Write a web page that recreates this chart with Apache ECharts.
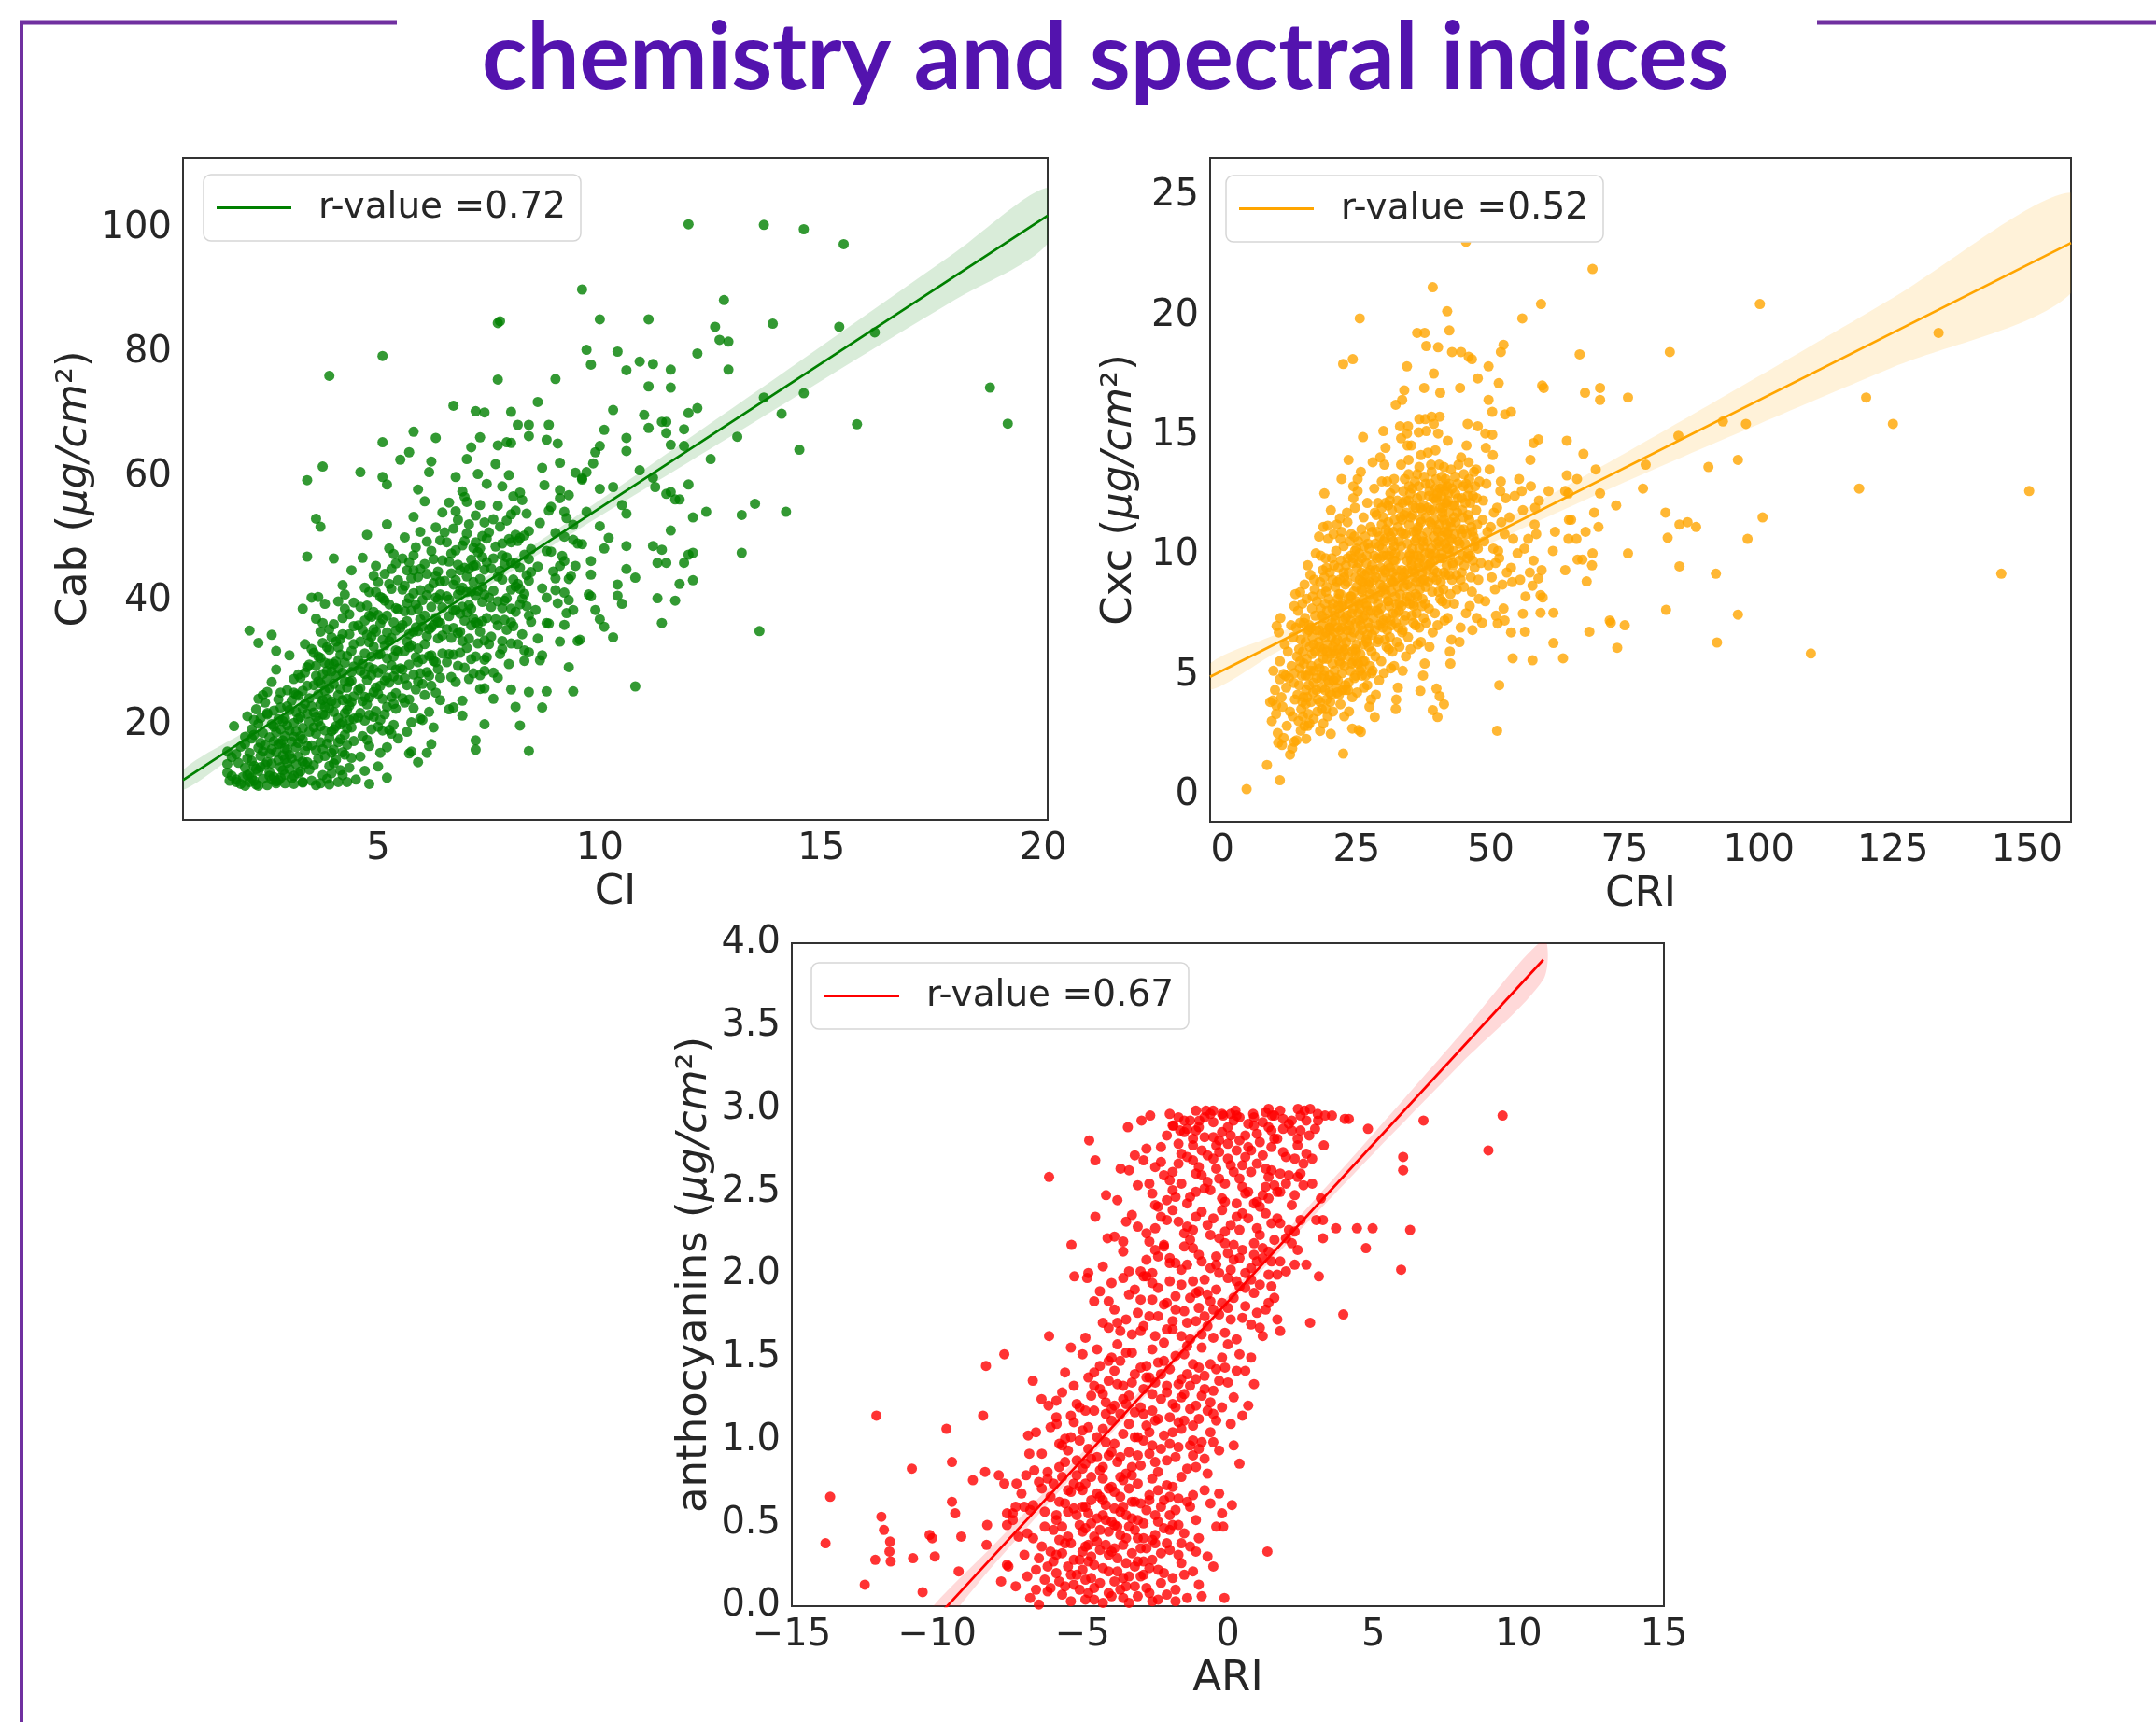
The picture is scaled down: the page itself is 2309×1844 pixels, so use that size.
<!DOCTYPE html>
<html><head><meta charset="utf-8">
<script src="https://cdn.jsdelivr.net/npm/echarts@6/dist/echarts.min.js"></script>
<style>html,body{margin:0;padding:0;background:#fff}#c{width:2309px;height:1844px}</style>
</head><body><div id="c"></div>
<script>
// ---------- Panel 1: CI vs Cab ----------
const ciCabCore = [
[1.6,12.3],[1.7,14.8],[1.8,11.2],[1.9,16.5],[2.0,13.1],[2.1,10.8],[2.2,18.4],[2.3,12.6],[2.4,15.7],[1.75,19.8],[1.85,13.9],[1.95,11.6],[2.05,21.4],[2.15,14.2],[2.25,10.4],[2.35,17.1],[2.45,23.6],[1.65,11.0],[2.0,16.9],[2.2,13.4],[2.4,11.3],[2.3,20.2],[2.1,12.1],[1.9,10.5],[2.45,13.6],[2.35,15.0],[2.15,17.8],[2.25,22.5],[1.8,15.3],[2.05,11.9],
[2.5,10.3],[3.5,11.0],[3.9,10.4],[4.5,11.2],[4.7,12.6],[2.8,11.5],[3.6,10.3],[4.2,11.9],[2.2,11.0],[3.2,12.2],
[2.55,12.4],[2.6,16.1],[2.65,19.7],[2.7,10.9],[2.75,14.3],[2.8,22.8],[2.85,17.5],[2.9,12.0],[2.95,25.6],[3.0,15.2],[3.05,11.4],[3.1,20.3],[3.15,13.7],[3.2,28.1],[3.25,18.2],[3.3,10.7],[3.35,23.4],[3.4,16.6],[3.45,12.8],[2.6,26.9],[2.7,18.8],[2.8,13.2],[2.9,21.0],[3.0,31.2],[3.1,11.8],[3.2,14.9],[3.3,19.5],[3.4,26.3],[2.55,15.4],[2.65,11.6],[2.75,24.1],[2.85,20.6],[2.95,13.9],[3.05,17.3],[3.15,22.1],[3.25,12.5],[3.35,15.8],[3.45,29.7],[2.6,13.8],[2.8,17.0],[3.0,19.1],[3.2,24.7],[3.4,21.8],[2.7,28.9],[2.9,16.2],[3.1,27.4],[3.3,14.1],[3.45,18.9],[2.5,21.7],[2.75,11.1],[3.05,23.9],[3.35,33.0],[3.15,16.4],[2.95,19.9],[3.25,21.3],[2.85,15.1],[3.45,24.3],[3.0,12.9],[3.3,17.7],[2.65,22.3],
[3.55,13.5],[3.6,18.6],[3.65,24.9],[3.7,30.8],[3.75,16.1],[3.8,21.6],[3.85,27.3],[3.9,35.4],[3.95,12.2],[4.0,19.3],[4.05,23.5],[4.1,29.1],[4.15,33.8],[4.2,15.6],[4.25,38.7],[4.3,26.0],[4.35,20.8],[4.4,31.9],[4.45,17.4],[3.55,22.0],[3.6,27.9],[3.65,14.6],[3.7,19.8],[3.75,33.2],[3.8,25.5],[3.85,11.3],[3.9,17.9],[3.95,28.6],[4.0,36.2],[4.05,14.4],[4.1,21.1],[4.15,25.8],[4.2,42.5],[4.25,18.4],[4.3,31.1],[4.35,13.1],[4.4,23.7],[4.45,35.9],[3.6,37.1],[3.7,23.3],[3.8,15.0],[3.9,29.8],[4.0,26.6],[4.1,17.2],[4.2,34.6],[4.3,22.4],[4.4,44.9],[3.65,20.6],[3.75,28.2],[3.85,32.5],[3.95,19.0],[4.05,30.2],[4.15,12.7],[4.25,27.0],[4.35,37.8],[4.45,24.6],[3.55,31.6],[3.8,39.5],[4.0,16.0],[4.2,28.4],[4.4,19.6],[3.7,26.7],[3.9,22.7],[4.1,39.9],[4.3,16.8],[3.6,15.9],[3.85,24.2],[4.05,33.4],[4.25,21.9],[4.45,29.4],[3.75,11.9],[3.95,34.1],[4.15,20.1],[4.35,26.9],[4.0,46.8],[3.65,40.6],[4.2,24.0],[3.9,13.4],[4.4,14.7],[3.8,30.0],
[4.55,21.2],[4.6,28.7],[4.65,35.3],[4.7,42.1],[4.75,17.6],[4.8,24.4],[4.85,31.0],[4.9,38.2],[4.95,45.6],[5.0,19.7],[5.05,26.3],[5.1,33.7],[5.15,40.0],[5.2,22.9],[5.25,48.4],[5.3,29.6],[5.35,36.5],[5.4,25.1],[5.45,43.3],[4.55,30.4],[4.6,14.9],[4.65,23.8],[4.7,36.8],[4.75,27.2],[4.8,41.4],[4.85,19.3],[4.9,32.6],[4.95,26.0],[5.0,37.7],[5.05,15.5],[5.1,29.0],[5.15,21.7],[5.2,34.9],[5.25,39.4],[5.3,18.6],[5.35,27.8],[5.4,46.0],[5.45,31.8],[4.6,39.0],[4.7,20.7],[4.8,33.3],[4.9,25.3],[5.0,43.0],[5.1,37.0],[5.2,16.4],[5.3,24.5],[5.4,35.2],[4.65,46.9],[4.75,34.5],[4.85,28.0],[4.95,22.2],[5.05,31.4],[5.15,44.3],[5.25,26.8],[5.35,20.0],[5.45,38.6],[4.55,36.0],[4.8,29.3],[5.0,25.0],[5.2,30.7],[5.4,22.6],[4.7,31.5],[4.9,44.0],[5.1,19.1],[5.3,41.9],[4.6,25.9],[4.85,37.4],[5.05,40.6],[5.25,33.5],[5.45,17.8],[4.75,50.6],[4.95,35.0],[5.15,27.1],[5.35,47.5],[5.0,13.3],[4.65,18.2],[5.2,52.3],[4.9,21.3],[5.4,28.9],[4.8,16.6],
[5.55,24.3],[5.6,31.9],[5.65,39.6],[5.7,46.2],[5.75,20.4],[5.8,28.1],[5.85,35.7],[5.9,43.8],[5.95,51.1],[6.0,26.6],[6.05,33.0],[6.1,40.9],[6.15,22.1],[6.2,48.0],[6.25,30.3],[6.3,37.2],[6.35,44.7],[6.4,27.6],[6.45,54.2],[5.55,36.1],[5.6,42.4],[5.65,18.9],[5.7,29.7],[5.75,38.4],[5.8,47.3],[5.85,25.7],[5.9,32.3],[5.95,21.0],[6.0,40.1],[6.05,45.9],[6.1,28.5],[6.15,35.4],[6.2,16.9],[6.25,42.8],[6.3,25.2],[6.35,33.9],[6.4,49.7],[6.45,38.9],[5.6,23.6],[5.7,34.6],[5.8,41.2],[5.9,27.0],[6.0,35.8],[6.1,49.5],[6.2,31.2],[6.3,44.0],[6.4,36.4],[5.65,44.9],[5.75,32.8],[5.85,48.6],[5.95,37.0],[6.05,24.8],[6.15,42.0],[6.25,19.6],[6.35,29.0],[6.45,46.5],[5.55,28.9],[5.8,53.5],[6.0,30.6],[6.2,39.0],[6.4,24.0],[5.7,40.4],[5.9,38.7],[6.1,34.3],[6.3,51.8],[5.6,50.2],[5.85,30.9],[6.05,56.0],[6.25,36.1],[6.45,31.5],[5.75,15.7],[5.95,45.1],[6.15,27.9],[6.35,40.2],[6.0,20.8],[5.65,33.4],[6.2,26.3],[5.9,57.9],[6.4,43.1],[5.8,22.7],
[6.55,30.1],[6.6,37.5],[6.65,44.4],[6.7,51.6],[6.75,26.9],[6.8,34.8],[6.85,41.7],[6.9,48.9],[6.95,56.7],[7.0,32.4],[7.05,39.3],[7.1,46.6],[7.15,28.3],[7.2,53.7],[7.25,36.3],[7.3,43.5],[7.35,50.4],[7.4,33.6],[7.45,58.8],[6.55,40.7],[6.6,22.5],[6.65,34.0],[6.7,42.6],[6.75,48.1],[6.8,29.5],[6.85,37.9],[6.9,23.9],[6.95,45.3],[7.0,50.8],[7.05,27.4],[7.1,36.0],[7.15,43.0],[7.2,31.0],[7.25,47.8],[7.3,25.8],[7.35,39.8],[7.4,45.0],[7.45,37.2],[6.6,46.3],[6.7,35.6],[6.8,53.0],[6.9,39.0],[7.0,43.9],[7.1,30.6],[7.2,40.8],[7.3,55.4],[7.4,28.7],[6.65,27.7],[6.75,54.4],[6.85,31.6],[6.95,36.8],[7.05,52.3],[7.15,48.5],[7.25,33.1],[7.35,42.2],[7.45,50.0],[6.55,49.4],[6.8,41.0],[7.0,38.1],[7.2,45.7],[7.4,52.6],[6.7,31.3],[6.9,57.6],[7.1,41.5],[7.3,35.0],[6.6,55.8],[6.85,44.9],[7.05,33.9],[7.25,60.4],[7.45,30.9],[6.75,38.5],[6.95,29.2],[7.15,37.1],[7.35,47.0],[7.0,62.8],
[7.55,34.2],[7.6,41.6],[7.65,48.7],[7.7,55.3],[7.75,31.4],[7.8,38.8],[7.85,45.9],[7.9,52.9],[7.95,60.2],[8.0,36.5],[8.05,43.4],[8.1,50.6],[8.15,33.0],[8.2,57.4],[8.25,40.3],[8.3,47.4],[8.35,54.0],[8.4,37.6],[8.45,44.6],[7.55,45.2],[7.6,28.4],[7.65,37.0],[7.7,43.9],[7.75,51.9],[7.8,33.5],[7.85,40.0],[7.9,47.0],[7.95,29.8],[8.0,53.9],[8.05,35.9],[8.1,42.3],[8.15,49.6],[8.2,39.4],[8.25,56.2],[8.3,32.0],[8.35,44.1],[8.4,51.2],[8.45,36.6],[7.6,53.1],[7.7,39.9],[7.8,58.4],[7.9,35.3],[8.0,46.1],[8.1,38.2],[8.2,45.3],[8.3,41.1],[8.4,31.7],[7.65,62.0],[7.75,44.8],[7.85,36.9],[7.95,49.9],[8.05,56.8],[8.15,42.7],[8.25,34.6],[8.35,39.1],[8.45,48.3],[7.55,39.0],[7.8,49.2],[8.0,41.8],[8.2,50.1],[8.4,43.2],
[8.55,38.5],[8.6,45.5],[8.65,52.5],[8.7,42.0],[8.75,58.6],[8.8,48.0],[8.85,36.3],[8.9,55.1],[8.95,44.7],[9.0,50.9],[9.05,39.6],[9.1,62.2],[9.15,47.2],[9.2,41.3],[9.25,53.3],[9.3,57.0],[9.35,44.0],[9.4,49.8],[9.45,60.6],[8.6,33.9],[8.7,61.4],[8.8,40.5],[8.9,47.9],[9.0,43.6],[9.1,56.5],[9.2,46.4],[9.3,40.1],[9.4,52.2],[8.65,30.4],[8.85,54.5],[9.05,65.3],[9.25,38.0],[9.45,45.6]
];
const ciCabDense = [
[2.05,14.6],[2.15,19.3],[2.25,12.9],[2.35,21.1],[2.45,16.8],[2.55,11.8],[2.65,17.4],[2.75,20.9],[2.85,12.7],[2.95,16.0],[2.1,15.5],[2.2,20.8],[2.3,16.3],[2.4,18.7],[2.5,14.0],[2.6,20.1],[2.7,15.6],[2.8,19.3],[2.9,14.5],[3.0,22.4],[2.15,11.5],[2.35,13.2],[2.55,18.0],[2.75,16.9],[2.95,23.0],[2.4,24.8],[2.6,11.2],[2.8,25.2],[2.0,18.1],[2.9,18.2],
[3.05,14.6],[3.1,25.2],[3.15,19.0],[3.2,17.1],[3.25,27.6],[3.3,22.6],[3.35,13.6],[3.4,29.3],[3.45,20.5],[3.5,16.7],[3.55,26.4],[3.6,21.3],[3.65,31.0],[3.7,17.2],[3.75,24.0],[3.8,19.1],[3.85,28.7],[3.9,25.9],[3.95,15.5],[4.0,22.1],[4.05,27.9],[4.1,32.5],[4.15,17.7],[4.2,20.4],[4.25,30.0],[4.3,24.2],[4.35,34.6],[4.4,27.1],[4.45,21.0],[3.1,18.1],[3.2,21.0],[3.3,25.5],[3.4,14.0],[3.5,23.0],[3.6,29.5],[3.7,35.0],[3.8,22.9],[3.9,32.1],[4.0,29.8],[4.1,24.8],[4.2,37.2],[4.3,19.4],[4.4,28.5],[3.55,19.6],[3.65,27.0],[3.75,21.7],[3.85,17.0],[3.95,23.8],[4.05,19.8],[4.15,31.3],[4.25,15.2],[4.35,23.1],[4.45,33.0],[3.5,32.2],[3.75,36.4],[4.0,13.8],[4.25,41.0],[3.35,28.4],[3.15,24.9],[4.45,39.7],
[4.55,25.6],[4.6,33.4],[4.65,29.8],[4.7,24.5],[4.75,39.2],[4.8,21.6],[4.85,34.2],[4.9,29.0],[4.95,41.4],[5.0,31.3],[5.05,36.3],[5.1,24.2],[5.15,32.8],[5.2,27.6],[5.25,42.7],[5.3,34.0],[5.35,31.0],[5.4,38.8],[5.45,27.3],[5.5,35.6],[5.55,41.8],[5.6,27.5],[5.65,36.7],[5.7,32.5],[5.75,43.6],[5.8,35.0],[5.85,39.4],[5.9,30.1],[5.95,41.7],[4.6,21.9],[4.7,28.2],[4.8,37.6],[4.9,35.4],[5.0,28.4],[5.1,40.4],[5.2,37.6],[5.3,45.1],[5.4,32.0],[5.5,29.1],[5.6,38.3],[5.7,24.1],[5.8,44.9],[5.9,35.1],[4.75,23.3],[5.05,20.8],[5.35,23.4],[5.65,26.4],[5.95,28.3],[5.25,19.2],[5.55,46.8],
[6.05,37.6],[6.1,44.3],[6.15,31.1],[6.2,35.7],[6.25,46.7],[6.3,40.5],[6.35,36.6],[6.4,41.0],[6.45,34.4],[6.5,43.2],[6.55,35.4],[6.6,40.2],[6.65,47.6],[6.7,38.4],[6.75,43.3],[6.8,45.8],[6.85,35.0],[6.9,42.1],[6.95,49.6],[7.0,41.4],[7.05,45.1],[7.1,38.7],[7.15,45.6],[7.2,36.5],[7.25,41.6],[7.3,48.4],[7.35,36.7],[7.4,41.0],[7.45,46.2],[7.5,40.5],[7.6,46.8],[7.7,36.0],[7.8,43.4],[7.9,40.4],[8.0,49.4],[8.1,46.0],[8.2,41.9],[8.3,50.5],[8.4,46.7],[6.3,30.1],[6.6,31.4],[6.9,33.5],[7.2,49.4],[7.5,51.0],[7.8,47.3],[8.1,54.5],[6.5,51.0],[7.0,55.9],[7.5,33.0],[8.0,38.7]
];
const ciCabSparse = [
[12.0,100.6],[13.7,100.5],[14.6,99.8],[15.5,97.4],[9.6,90.1],[12.8,88.4],[7.7,84.7],[7.75,85.0],[10.0,85.3],[11.1,85.3],[13.9,84.6],[15.4,84.1],[16.2,83.2],[12.6,84.1],[5.1,79.4],[12.7,82.0],[12.9,81.7],[9.7,80.4],[10.4,80.1],[12.2,79.8],[3.9,76.2],[9.8,78.0],[10.6,77.1],[10.9,78.5],[11.2,78.1],[11.6,77.2],[12.9,77.2],[7.7,75.6],[9.0,75.7],[11.1,74.5],[11.6,74.3],[18.8,74.3],[13.7,72.7],[14.6,73.4],[6.7,71.4],[7.2,70.5],[7.4,70.3],[8.6,72.0],[8.0,70.4],[10.3,70.7],[11.0,69.9],[12.0,70.2],[12.2,71.0],[14.1,70.1],[15.8,68.4],[19.2,68.5],[13.1,66.4],[14.5,64.3],[12.5,62.8],[10.1,67.5],[10.6,66.2],[10.6,64.1],[11.1,67.8],[11.4,68.8],[11.5,68.8],[11.5,67.0],[11.9,67.6],[11.6,65.1],[11.9,64.9],[10.0,64.9],[9.9,63.9],[9.85,62.1],[9.7,60.7],[9.6,59.5],[10.0,58.0],[10.3,58.3],[10.9,61.0],[11.2,59.8],[11.25,58.3],[11.5,57.2],[11.6,57.5],[11.7,56.3],[11.8,56.3],[12.0,58.7],[12.1,53.4],[12.4,54.3],[13.2,53.8],[13.5,55.6],[14.2,54.3],[13.2,47.7],[12.1,47.7],[12.0,47.4],[12.1,43.3],[11.8,42.7],[11.9,46.1],[11.5,46.1],[11.6,51.3],[11.2,48.8],[11.4,48.2],[11.3,46.1],[11.7,40.0],[11.3,40.4],[11.4,36.4],[13.6,35.1],[10.8,26.2],[10.8,43.7],[10.6,45.1],[10.4,42.6],[10.5,39.5],[10.6,48.8],[10.6,54.0],[10.5,55.4],[10.3,34.1],[9.9,38.5],[10.4,40.8],[10.1,35.8],[10.0,37.0],[9.8,40.7],[9.75,41.0],[9.8,44.2],[9.8,46.4],[10.1,48.4],[10.2,50.1],[10.0,52.0],[9.7,54.3],[9.6,59.7],[9.5,49.2],[9.6,49.1],[9.4,38.5],[9.3,43.5],[9.4,25.4],[9.3,29.3],[9.5,33.5],[9.55,33.7],[9.2,36.1],[9.1,33.4],[9.0,41.7],[9.1,45.6],[9.2,50.3],[9.2,54.3],[9.1,57.8],[8.8,25.4],[8.7,31.2],[8.8,36.4],[8.7,22.8],[8.4,15.8],[8.2,19.9],[8.1,22.9],[8.4,25.3],[8.3,30.3],[8.0,33.1],[7.8,32.2],[7.6,24.2],[7.4,20.1],[7.2,16.0],[7.2,17.5],[6.9,21.5],[6.7,22.8],[7.7,27.6],[8.0,25.7],[7.4,25.9],[7.3,28.0],[7.4,30.5],[6.1,15.5],[5.9,14.0],[5.7,15.4],[5.2,11.5],[4.8,10.5],[4.3,10.8],[4.1,10.8],[3.7,10.6],[3.3,10.8],[3.1,10.5],[2.9,10.6],[2.7,10.6],[2.3,10.2],[2.0,10.2],[1.8,10.8],[1.7,11.8],[1.6,13.7],[1.6,15.7],[2.1,35.2],[2.3,33.2],[2.6,34.5],[2.7,31.9],[2.3,24.2],[2.5,21.9],[2.5,25.3],[3.4,59.4],[3.75,61.6],[3.6,53.2],[3.7,51.9],[3.4,47.1],[3.5,40.5],[3.3,38.7],[4.6,60.7],[5.1,65.5],[5.1,59.9],[5.2,58.7],[5.5,62.7],[5.7,63.9],[5.8,67.2],[6.3,66.2],[6.2,62.4],[6.15,60.7],[6.75,59.9],[7.1,64.7],[7.3,66.3],[7.7,65.0],[7.9,65.5],[8.0,65.4],[8.4,68.3],[8.15,68.3],[8.4,66.5],[8.8,65.9],[8.85,68.3]
];
const ciCabFit = [[0.6,11.1],[20.1,102.0]];
const ciCabBand = [[0.6,9.5,12.7],[2,16.3,18.9],[4,25.9,27.9],[6,35.5,37.1],[8,44.7,46.5],[10,53.6,56.2],[12,62.3,66.1],[14,71.0,76.0],[16,79.8,86.0],[18,88.4,96.0],[20.1,97.5,106.5]];
const ciTicks = [5,10,15,20];
const cabTicks = [20,40,60,80,100];

// ---------- Panel 2: CRI vs Cxc ----------
const criCxcCore = [
[9.2,3.1],[9.8,4.4],[10.3,2.6],[10.7,5.6],[11.2,3.7],[11.6,6.3],[12.0,2.9],[12.4,4.9],[12.8,7.1],[9.5,5.2],[10.0,3.4],[10.5,6.8],[11.0,4.1],[11.4,2.4],[11.8,5.0],[12.2,6.0],[12.6,3.5],[10.8,7.4],[11.9,4.5],[12.9,5.4],
[13.1,3.3],[13.4,5.1],[13.7,7.0],[14.0,4.2],[14.3,6.1],[14.6,2.7],[14.9,8.0],[15.2,5.5],[15.5,3.8],[15.8,6.8],[16.1,4.6],[16.4,9.2],[16.7,5.9],[17.0,3.2],[17.3,7.5],[17.6,4.9],[17.9,6.4],[13.2,6.6],[13.5,4.0],[13.8,2.3],[14.1,7.7],[14.4,5.3],[14.7,3.6],[15.0,6.0],[15.3,8.8],[15.6,4.4],[15.9,2.9],[16.2,7.1],[16.5,3.9],[16.8,8.3],[17.1,5.2],[17.4,10.1],[17.7,3.5],[13.3,4.7],[13.9,5.8],[14.5,7.2],[15.1,4.1],[15.7,5.7],[16.3,6.2],[16.9,4.3],[17.5,6.9],[14.2,3.1],[14.8,5.0],[15.4,7.4],[16.0,3.4],[16.6,5.4],[17.2,8.6],[17.8,4.0],[13.6,8.4],[15.9,9.6],
[18.1,5.3],[18.3,7.8],[18.5,3.6],[18.7,9.4],[18.9,6.1],[19.1,4.4],[19.3,8.5],[19.5,5.7],[19.7,10.7],[19.9,7.0],[20.1,3.9],[20.3,6.6],[20.5,9.0],[20.7,4.8],[20.9,7.5],[21.1,5.9],[21.3,11.3],[21.5,8.2],[21.7,4.2],[21.9,6.9],[22.1,9.8],[22.3,5.1],[22.5,7.3],[22.7,3.3],[22.9,8.8],[18.2,8.9],[18.4,4.9],[18.6,6.7],[18.8,3.0],[19.0,7.4],[19.2,9.9],[19.4,4.0],[19.6,6.3],[19.8,8.2],[20.0,5.0],[20.2,11.9],[20.4,7.2],[20.6,3.5],[20.8,6.0],[21.0,8.7],[21.2,4.5],[21.4,7.0],[21.6,9.5],[21.8,5.6],[22.0,3.8],[22.2,7.9],[22.4,6.2],[22.6,10.4],[22.8,5.4],[18.5,6.0],[19.0,5.2],[19.5,7.7],[20.0,9.3],[20.5,5.5],[21.0,6.4],[21.5,4.8],[22.0,8.4],[22.5,6.6],[18.7,7.1],[19.3,6.8],[19.9,4.7],[20.6,8.0],[21.2,10.2],[21.8,7.6],[22.4,4.4],[22.9,6.1],[18.3,10.0],[19.6,3.3],[20.9,5.2],[22.2,11.0],[19.1,8.0],[20.3,4.2],[21.6,6.1],[22.7,9.1],[18.9,5.0],[21.4,8.9],[20.7,10.9],[19.4,9.5],[22.1,5.8],[20.1,6.9],
[23.1,6.4],[23.3,8.9],[23.5,4.7],[23.7,10.6],[23.9,7.3],[24.1,5.5],[24.3,9.7],[24.5,6.8],[24.7,12.0],[24.9,8.1],[25.1,4.3],[25.3,7.6],[25.5,10.1],[25.7,5.9],[25.9,8.6],[26.1,6.9],[26.3,11.6],[26.5,9.2],[26.7,5.0],[26.9,7.9],[27.1,10.5],[27.3,6.2],[27.5,8.4],[27.7,4.0],[27.9,9.6],[23.2,7.5],[23.4,5.8],[23.6,3.5],[23.8,8.3],[24.0,10.9],[24.2,6.0],[24.4,7.8],[24.6,4.9],[24.8,9.1],[25.0,6.3],[25.2,12.7],[25.4,8.0],[25.6,5.2],[25.8,7.1],[26.0,9.9],[26.2,5.6],[26.4,8.2],[26.6,10.8],[26.8,6.5],[27.0,4.6],[27.2,8.8],[27.4,7.0],[27.6,11.2],[27.8,6.0],[23.5,9.3],[24.0,6.6],[24.5,8.5],[25.0,10.3],[25.5,7.3],[26.0,5.0],[26.5,7.5],[27.0,9.3],[27.5,5.4],[23.3,11.4],[24.2,4.1],[24.9,6.0],[25.6,9.0],[26.3,6.3],[27.0,12.2],[27.7,7.7],[23.8,6.9],[24.7,10.2],[25.3,5.5],[26.1,8.9],[26.9,10.0],[27.4,3.7],[23.0,4.4],[24.4,12.4],[25.9,11.1],[26.7,8.0],[27.9,6.7],[25.1,9.5],[23.6,8.0],[26.4,4.5],[27.2,7.2],
[28.1,7.4],[28.3,10.0],[28.5,5.8],[28.7,11.7],[28.9,8.3],[29.1,6.5],[29.3,10.8],[29.5,7.8],[29.7,13.1],[29.9,9.1],[30.1,5.1],[30.3,8.6],[30.5,11.1],[30.7,6.9],[30.9,9.6],[31.1,7.9],[31.3,12.6],[31.5,10.2],[31.7,6.0],[31.9,8.9],[32.1,11.5],[32.3,7.2],[32.5,9.4],[32.7,4.5],[32.9,10.6],[28.2,9.0],[28.4,6.9],[28.6,4.2],[28.8,9.9],[29.0,12.2],[29.2,7.1],[29.4,8.8],[29.6,5.6],[29.8,10.3],[30.0,7.3],[30.2,13.8],[30.4,9.3],[30.6,6.2],[30.8,8.1],[31.0,11.0],[31.2,6.6],[31.4,9.0],[31.6,11.9],[31.8,7.6],[32.0,5.4],[32.2,9.8],[32.4,8.0],[32.6,12.3],[32.8,7.0],[28.5,10.5],[29.0,8.0],[29.5,9.5],[30.0,11.6],[30.5,8.4],[31.0,6.1],[31.5,8.5],[32.0,10.4],[32.5,6.4],[28.3,12.8],[29.2,4.8],[29.9,7.0],[30.6,10.0],[31.3,7.3],[32.0,13.2],[32.7,8.7],[28.8,7.7],[29.7,11.3],[30.3,6.5],[31.1,10.0],[31.9,11.0],[32.4,4.0],[28.0,5.2],[29.4,14.1],[30.9,12.1],[31.7,9.3],[32.9,7.7],[30.1,10.6],[28.6,9.1],[31.4,5.3],[32.2,8.3],
[33.1,8.4],[33.3,11.0],[33.5,6.8],[33.7,12.7],[33.9,9.3],[34.1,7.5],[34.3,11.8],[34.5,8.8],[34.7,14.0],[34.9,10.1],[35.1,6.1],[35.3,9.6],[35.5,12.1],[35.7,7.9],[35.9,10.6],[36.1,8.9],[36.3,13.4],[36.5,11.2],[36.7,7.0],[36.9,9.9],[37.1,12.5],[37.3,8.2],[37.5,10.4],[37.7,5.5],[37.9,11.6],[33.2,10.0],[33.4,7.9],[33.6,5.2],[33.8,10.9],[34.0,13.2],[34.2,8.1],[34.4,9.8],[34.6,6.6],[34.8,11.3],[35.0,8.3],[35.2,14.6],[35.4,10.3],[35.6,7.2],[35.8,9.1],[36.0,12.0],[36.2,7.6],[36.4,10.0],[36.6,12.9],[36.8,8.6],[37.0,6.4],[37.2,10.8],[37.4,9.0],[37.6,13.3],[37.8,8.0],[33.5,11.5],[34.0,9.0],[34.5,10.5],[35.0,12.6],[35.5,9.4],[36.0,7.1],[36.5,9.5],[37.0,11.4],[37.5,7.4],[33.3,13.8],[34.2,5.8],[34.9,8.0],[35.6,11.0],[36.3,8.3],[37.0,14.2],[37.7,9.7],[33.8,8.7],[34.7,12.3],[35.3,7.5],[36.1,11.0],[36.9,12.0],[37.4,5.0],[33.0,6.2],[34.4,15.1],[35.9,13.1],[36.7,10.3],[37.9,8.7],[35.1,11.6],[33.6,9.1],[36.4,6.3],[37.2,9.3],
[38.1,9.4],[38.3,12.0],[38.5,7.8],[38.7,13.0],[38.9,10.3],[39.1,8.5],[39.3,12.4],[39.5,9.8],[39.7,14.4],[39.9,11.1],[40.1,7.1],[40.3,10.6],[40.5,12.8],[40.7,8.9],[40.9,11.6],[41.1,9.9],[41.3,13.7],[41.5,12.2],[41.7,8.0],[41.9,10.9],[42.1,12.6],[42.3,9.2],[42.5,11.4],[42.7,6.5],[42.9,12.1],[38.2,11.0],[38.4,8.9],[38.6,6.2],[38.8,11.9],[39.0,13.5],[39.2,9.1],[39.4,10.8],[39.6,7.6],[39.8,12.3],[40.0,9.3],[40.2,15.1],[40.4,11.3],[40.6,8.2],[40.8,10.1],[41.0,12.9],[41.2,8.6],[41.4,11.0],[41.6,13.2],[41.8,9.6],[42.0,7.4],[42.2,11.8],[42.4,10.0],[42.6,13.6],[42.8,9.0],[38.5,12.5],[39.0,10.0],[39.5,11.5],[40.0,12.4],[40.5,10.4],[41.0,8.1],[41.5,10.5],[42.0,12.3],[42.5,8.4],[38.3,14.3],[39.2,6.8],[39.9,9.0],[40.6,12.0],[41.3,9.3],[42.0,14.8],[42.7,10.7],[38.8,9.7],[39.7,12.8],[40.3,8.5],[41.1,12.0],[41.9,12.9],[42.4,6.0],[38.0,7.2],[39.4,15.5],[40.9,13.3],[41.7,11.3],[42.9,9.7],[40.1,12.6],[38.6,10.1],[41.4,7.3],[42.2,10.3],
[43.1,10.2],[43.4,12.6],[43.7,8.6],[44.0,13.8],[44.3,11.1],[44.6,9.3],[44.9,12.9],[45.2,10.5],[45.5,14.6],[45.8,11.7],[46.1,7.9],[46.4,11.2],[46.7,12.5],[47.0,9.5],[47.3,11.9],[47.6,10.3],[47.9,13.1],[43.2,8.0],[43.5,11.4],[43.8,13.0],[44.1,9.8],[44.4,7.0],[44.7,11.9],[45.0,8.7],[45.3,12.2],[45.6,9.9],[45.9,13.9],[46.2,10.0],[46.5,8.5],[46.8,10.8],[47.1,12.9],[47.4,7.4],[47.7,9.0],[43.3,12.1],[43.9,10.6],[44.5,14.1],[45.1,9.6],[45.7,12.5],[46.3,9.1],[46.9,13.5],[47.5,11.3],[44.2,6.4],[44.8,10.0],[45.4,7.6],[46.0,11.5],[46.6,6.9],[47.2,10.6],[47.8,8.2],[43.6,9.2],[45.0,13.4],
[48.2,9.7],[48.6,12.3],[49.0,8.1],[49.4,11.0],[49.8,13.6],[50.2,9.1],[50.6,11.8],[51.0,7.5],[51.4,10.2],[51.8,12.7],[52.2,8.8],[52.6,10.9],[53.0,9.3],[48.4,7.2],[48.8,10.6],[49.2,13.0],[49.6,9.6],[50.0,11.2],[50.4,14.2],[50.8,8.6],[51.2,12.0],[51.6,9.9],[52.0,11.4],[52.4,7.8],[52.8,12.4],[49.1,14.5],[50.5,10.3],[51.9,13.1],[48.5,11.5],[50.9,9.7],
[53.5,11.6],[54.0,8.9],[54.5,12.5],[55.0,10.1],[55.5,9.0],[56.0,11.9],[56.5,8.3],[57.0,10.7],[57.5,12.9],[58.0,9.8],[58.5,10.9],[59.0,12.3],[59.5,9.4],[54.2,10.7],[55.3,13.2],[56.3,10.3],[57.3,9.3],[58.3,12.0],[53.8,9.5],[55.8,12.7]
];
const criCxcDense = [
[14.3,4.6],[14.6,6.5],[14.9,3.9],[15.2,7.2],[15.5,5.0],[15.8,4.1],[16.1,6.9],[16.4,5.2],[16.7,7.8],[17.0,4.7],[17.3,6.0],[17.6,8.1],[17.9,5.5],[18.2,3.9],[18.5,7.5],[18.8,5.7],[19.1,6.6],[19.4,8.7],[19.7,4.8],[20.0,7.0],[14.5,5.6],[15.0,3.3],[15.5,6.4],[16.0,5.0],[16.5,7.0],[17.0,6.3],[17.5,4.4],[18.0,6.9],[18.5,4.5],[19.0,9.1],[19.5,6.0],[20.0,4.3],[15.3,2.9],[16.2,3.0],[17.1,9.0],[18.4,8.4],[19.3,3.6],[16.8,6.6],[15.7,8.2],[18.1,6.2],
[20.2,5.9],[20.5,7.8],[20.8,9.6],[21.1,4.9],[21.4,6.5],[21.7,8.4],[22.0,5.5],[22.3,7.0],[22.6,9.3],[22.9,4.6],[23.2,6.9],[23.5,8.2],[23.8,5.2],[24.1,7.6],[24.4,9.9],[24.7,6.1],[25.0,8.7],[25.3,10.6],[25.6,6.7],[25.9,9.3],[26.2,7.4],[26.5,5.6],[26.8,9.7],[27.1,7.7],[27.4,10.3],[27.7,8.6],[20.4,9.9],[20.9,6.8],[21.4,4.3],[21.9,9.0],[22.4,8.0],[22.9,7.4],[23.4,4.4],[23.9,10.0],[24.4,5.6],[24.9,7.2],[25.4,9.7],[25.9,5.3],[26.4,10.4],[26.9,6.4],[27.4,8.9],[27.9,11.0],[21.0,7.3],[22.0,10.7],[23.0,9.6],[24.0,8.3],[25.0,5.6],[26.0,8.5],[27.0,6.7],[27.8,5.1],[20.6,6.2],[21.6,7.9],[22.6,6.0],[23.6,7.1],[24.6,10.8],[25.6,7.8],[26.6,8.9],[27.6,9.4],[23.3,9.9],[24.8,5.0],
[28.2,8.2],[28.5,9.4],[28.8,11.0],[29.1,7.6],[29.4,9.9],[29.7,12.0],[30.0,8.7],[30.3,10.7],[30.6,7.4],[30.9,11.4],[31.2,9.5],[31.5,7.1],[31.8,10.6],[32.1,12.8],[32.4,9.1],[32.7,11.2],[33.0,8.0],[33.3,10.4],[33.6,12.2],[33.9,7.3],[34.2,10.9],[34.5,9.4],[34.8,12.9],[35.1,8.7],[35.4,11.7],[35.7,10.0],[36.0,8.4],[36.3,12.4],[36.6,9.7],[36.9,11.5],[37.2,7.9],[37.5,12.1],[37.8,10.1],[28.4,11.8],[28.9,6.4],[29.4,8.5],[29.9,10.0],[30.4,12.2],[30.9,8.1],[31.4,10.8],[31.9,9.8],[32.4,7.6],[32.9,12.0],[33.4,9.4],[33.9,11.7],[34.4,8.3],[34.9,10.0],[35.4,12.8],[35.9,9.3],[36.4,11.1],[36.9,8.9],[37.4,10.6],[37.9,13.0],[29.2,10.4],[30.2,9.4],[31.2,12.3],[32.2,10.1],[33.2,11.6],[34.2,12.3],[35.2,9.8],[36.2,10.7],[37.2,11.9],[29.6,7.2],[31.6,8.9],[33.6,6.9],[35.6,8.0],[37.6,9.0],[30.7,13.1],[34.7,13.4],[36.7,13.7],
[38.2,10.6],[38.6,12.7],[39.0,11.3],[39.4,9.4],[39.8,13.2],[40.2,11.0],[40.6,9.9],[41.0,11.8],[41.4,12.7],[41.8,10.3],[42.2,13.0],[42.6,11.2],[43.0,9.6],[43.4,13.3],[43.8,11.8],[44.2,10.5],[44.6,12.4],[45.0,11.1],[45.4,13.0],[45.8,10.1],[46.2,12.2],[46.6,11.0],[47.0,10.4],[47.4,12.4],[38.4,9.6],[38.9,13.8],[39.3,11.9],[39.9,10.5],[40.4,13.8],[40.9,10.8],[41.3,11.5],[41.8,12.2],[42.3,10.6],[42.8,12.8],[43.3,10.9],[43.9,12.4],[44.4,9.0],[44.9,11.6],[45.5,10.9],[46.0,13.2],[46.7,9.8],[47.3,13.6],[39.6,10.1],[40.8,12.5],[42.0,11.0],[43.2,11.6],[44.6,10.9],[45.9,12.8],[41.6,9.2],[38.7,11.4]
];
const criCxcSparse = [
[4.5,0.26],[8.3,1.27],[10.7,0.63],[10.1,7.07],[22.5,1.74],[45.4,23.1],[69.0,21.96],[39.2,21.2],[41.9,20.2],[25.6,19.9],[59.4,20.5],[55.9,19.9],[100.2,20.5],[133.5,19.3],[24.3,18.2],[22.5,18.0],[34.4,17.9],[36.3,19.3],[37.7,19.3],[38.0,18.75],[40.2,18.7],[42.3,19.4],[42.8,18.5],[44.5,18.5],[45.9,18.3],[46.5,18.2],[49.6,17.9],[51.9,18.5],[52.4,18.8],[47.6,17.4],[51.5,17.2],[39.4,17.6],[44.3,17.0],[33.9,16.9],[37.6,17.0],[40.6,16.8],[32.3,16.3],[33.5,16.5],[66.6,18.4],[83.4,18.5],[59.6,17.1],[59.9,17.0],[67.6,16.8],[70.4,17.0],[70.4,16.5],[75.6,16.6],[120.0,16.6],[125.0,15.5],[93.3,15.6],[97.6,15.5],[85.0,15.0],[64.2,14.8],[58.9,14.85],[58.0,14.7],[67.3,14.25],[57.4,14.0],[96.1,14.0],[90.6,13.7],[78.9,13.8],[69.6,13.6],[64.2,13.35],[66.1,13.2],[78.4,12.8],[118.7,12.8],[150.4,12.7],[70.4,12.6],[63.9,12.7],[64.5,12.6],[60.8,12.7],[82.6,11.8],[73.4,12.1],[100.7,11.6],[64.6,11.5],[65.0,11.5],[62.0,11.0],[58.2,11.3],[85.2,11.3],[86.7,11.4],[88.3,11.2],[69.3,11.8],[70.1,11.2],[67.7,11.0],[64.5,10.7],[66.0,10.7],[83.0,10.75],[97.9,10.7],[61.6,10.2],[75.6,10.1],[69.0,10.1],[66.2,9.84],[67.1,9.84],[63.9,9.4],[68.9,9.6],[67.9,8.93],[85.2,9.56],[92.0,9.25],[145.2,9.25],[58.9,9.05],[59.3,8.36],[59.7,8.26],[57.8,8.75],[59.3,7.62],[61.7,7.62],[82.7,7.74],[96.1,7.54],[68.4,6.83],[72.2,7.3],[72.4,7.2],[75.0,7.1],[56.0,7.58],[52.6,7.3],[51.3,7.17],[56.4,6.83],[53.8,6.8],[73.6,6.16],[61.7,6.36],[92.2,6.38],[109.7,5.92],[63.5,5.72],[57.8,5.64],[54.1,5.72],[51.6,4.6],[51.2,2.7],[42.5,5.5],[41.3,3.8],[40.1,3.27],[39.2,3.56],[40.5,4.14],[39.9,4.46],[36.9,4.36],[32.3,3.6],[28.4,3.27],[25.8,2.65],[24.2,2.79],[25.4,2.73],[20.2,2.57],[18.2,2.69],[15.6,2.36],[12.6,1.7],[13.0,1.96],[13.4,2.24],[10.4,2.2],[11.1,2.1],[9.4,3.96],[10.0,3.76],[8.9,3.9],[10.7,4.85],[11.4,5.07],[13.4,7.9],[14.5,8.48],[19.0,12.6],[18.0,10.8],[18.8,11.2],[19.6,11.25],[21.9,11.56],[23.2,11.8],[23.5,14.0],[24.4,12.9],[25.2,13.2],[25.8,13.5],[26.2,14.95],[22.2,13.2],[28.0,13.9],[30.4,14.5],[30.0,15.2],[33.1,15.4],[34.6,15.4],[33.3,14.9],[34.5,14.6],[36.6,15.15],[38.0,15.2],[36.7,15.7],[37.8,15.7],[39.0,15.8],[40.5,15.8],[45.7,15.5],[47.6,15.4],[49.0,15.1],[50.3,15.05],[49.6,16.5],[50.3,16.0],[53.8,16.0],[52.7,15.9]
];
const criCxcFit = [[-2.3,4.95],[158.2,23.05]];
const criCxcBand = [[-2.3,4.40,5.50],[10,5.96,6.72],[25,7.76,8.30],[35,8.91,9.41],[50,10.52,11.18],[75,13.07,14.27],[100,15.49,17.49],[125,17.86,20.76],[158.2,20.95,25.15]];
const criTicks = [0,25,50,75,100,125,150];
const cxcTicks = [0,5,10,15,20,25];

// ---------- Panel 3: ARI vs anthocyanins ----------
const ariAnthCore = [
[-7.3,0.12],[-7.0,0.31],[-6.8,0.05],[-6.6,0.22],[-6.4,0.36],[-6.2,0.09],[-6.0,0.27],[-5.8,0.15],[-5.6,0.38],[-5.4,0.03],[-5.2,0.19],[-5.0,0.33],[-4.8,0.08],[-4.6,0.25],[-4.4,0.14],[-4.2,0.37],[-4.0,0.06],[-3.8,0.29],[-3.6,0.17],[-3.4,0.02],[-3.2,0.24],[-3.0,0.35],[-2.8,0.11],[-2.6,0.28],[-2.4,0.04],[-2.2,0.2],[-2.0,0.34],[-1.8,0.1],[-1.6,0.26],[-1.4,0.05],[-1.2,0.21],[-1.0,0.13],[-0.7,0.3],[-6.9,0.18],[-6.5,0.01],[-6.1,0.33],[-5.7,0.07],[-5.3,0.28],[-4.9,0.16],[-4.5,0.39],[-4.1,0.21],[-3.7,0.1],[-3.3,0.32],[-2.9,0.19],[-2.5,0.38],[-2.1,0.07],[-1.7,0.31],[-1.3,0.36],[-5.9,0.2],[-5.1,0.1],[-4.7,0.3],[-4.3,0.02],[-3.9,0.15],[-3.5,0.26],[-3.1,0.06],[-2.7,0.23],[-2.3,0.14],[-5.5,0.24],[-4.4,0.34],[-3.6,0.37],[-4.9,0.04],[-5.3,0.13],[-4.1,0.08],[-3.2,0.12],[-6.3,0.16],[-7.6,0.25],[-1.9,0.17],[-0.9,0.06],[-4.6,0.11],[-5.0,0.22],[-3.9,0.35],[-4.8,0.37],[-2.6,0.03],[-5.7,0.32],[-3.4,0.18],
[-7.4,0.52],[-7.1,0.68],[-6.9,0.44],[-6.7,0.61],[-6.5,0.75],[-6.3,0.48],[-6.1,0.66],[-5.9,0.55],[-5.7,0.78],[-5.5,0.42],[-5.3,0.59],[-5.1,0.72],[-4.9,0.47],[-4.7,0.64],[-4.5,0.53],[-4.3,0.77],[-4.1,0.45],[-3.9,0.69],[-3.7,0.57],[-3.5,0.41],[-3.3,0.63],[-3.1,0.74],[-2.9,0.5],[-2.7,0.67],[-2.5,0.43],[-2.3,0.6],[-2.1,0.73],[-1.9,0.49],[-1.7,0.65],[-1.5,0.44],[-1.3,0.6],[-1.1,0.52],[-0.8,0.7],[-0.4,0.48],[-7.2,0.42],[-6.8,0.58],[-6.4,0.71],[-6.0,0.46],[-5.6,0.62],[-5.2,0.79],[-4.8,0.56],[-4.4,0.66],[-4.0,0.51],[-3.6,0.76],[-3.2,0.46],[-2.8,0.58],[-2.4,0.7],[-2.0,0.55],[-1.6,0.78],[-1.2,0.67],[-5.8,0.4],[-5.4,0.69],[-5.0,0.6],[-4.6,0.42],[-4.2,0.61],[-3.8,0.48],[-3.4,0.71],[-3.0,0.62],[-2.6,0.77],[-2.2,0.47],[-1.8,0.58],[-1.0,0.41],[-0.6,0.62],[-4.9,0.74],[-4.3,0.55],[-3.7,0.66],[-3.1,0.52],[-5.5,0.57],[-6.2,0.77],[-4.7,0.78],[-3.3,0.53],[-2.0,0.66],[-0.2,0.56],[-5.1,0.49],[-4.0,0.72],[-2.9,0.41],[-3.6,0.6],
[-6.4,0.92],[-6.1,1.08],[-5.8,0.84],[-5.6,1.01],[-5.4,1.15],[-5.2,0.88],[-5.0,1.06],[-4.8,0.95],[-4.6,1.18],[-4.4,0.82],[-4.2,0.99],[-4.0,1.12],[-3.8,0.87],[-3.6,1.04],[-3.4,0.93],[-3.2,1.17],[-3.0,0.85],[-2.8,1.09],[-2.6,0.97],[-2.4,0.81],[-2.2,1.03],[-2.0,1.14],[-1.8,0.9],[-1.6,1.07],[-1.4,0.83],[-1.2,1.0],[-1.0,1.13],[-0.8,0.89],[-0.6,1.05],[-0.3,0.94],[0.1,1.1],[0.4,0.86],[-6.2,0.81],[-5.7,0.97],[-5.3,1.11],[-4.9,0.86],[-4.5,1.02],[-4.1,0.91],[-3.7,1.16],[-3.3,0.84],[-2.9,1.0],[-2.5,1.12],[-2.1,0.88],[-1.7,0.96],[-1.3,1.19],[-0.9,0.99],[-0.5,1.16],[-5.9,1.14],[-5.1,1.0],[-4.3,1.07],[-3.5,0.8],[-2.7,0.92],[-1.9,1.05],[-1.1,0.84],[-4.7,0.89],[-3.9,0.98],[-3.1,1.02],[-2.3,0.95],[-1.5,1.12],[-0.7,0.8],[0.2,0.97],[-5.5,0.94],[-4.0,1.19],[-2.6,1.18],[-1.2,0.91],[-6.6,1.05],
[-5.9,1.24],[-5.6,1.41],[-5.3,1.33],[-5.0,1.52],[-4.7,1.27],[-4.4,1.45],[-4.1,1.36],[-3.8,1.58],[-3.5,1.22],[-3.2,1.4],[-2.9,1.31],[-2.6,1.55],[-2.3,1.25],[-2.0,1.43],[-1.7,1.34],[-1.4,1.57],[-1.1,1.21],[-0.8,1.39],[-0.5,1.3],[-0.2,1.5],[0.2,1.26],[0.6,1.42],[0.9,1.34],[-5.4,1.56],[-5.1,1.2],[-4.8,1.38],[-4.5,1.55],[-4.2,1.23],[-3.9,1.42],[-3.6,1.33],[-3.3,1.53],[-3.0,1.2],[-2.7,1.38],[-2.4,1.47],[-2.1,1.29],[-1.8,1.51],[-1.5,1.28],[-1.2,1.46],[-0.9,1.56],[-0.6,1.23],[-0.3,1.36],[0.0,1.58],[0.4,1.52],[-4.6,1.33],[-3.4,1.27],[-2.2,1.59],[-1.0,1.44],[-5.7,1.29],[-4.0,1.5],[-2.8,1.45],[-1.6,1.37],[-0.4,1.43],[0.7,1.21],[-3.7,1.48],[-1.9,1.22],[-2.5,1.35],[-4.3,1.28],[-1.3,1.33],
[-4.9,1.62],[-4.6,1.84],[-4.3,1.71],[-4.0,1.95],[-3.7,1.66],[-3.4,1.88],[-3.1,1.77],[-2.8,1.99],[-2.5,1.63],[-2.2,1.82],[-1.9,1.72],[-1.6,1.94],[-1.3,1.61],[-1.0,1.8],[-0.7,1.69],[-0.4,1.91],[-0.1,1.65],[0.2,1.86],[0.5,1.74],[0.8,1.97],[1.1,1.68],[1.4,1.83],[1.7,1.73],[-3.9,1.79],[-3.6,1.98],[-3.3,1.64],[-3.0,1.85],[-2.7,1.75],[-2.4,1.92],[-2.1,1.67],[-1.8,1.87],[-1.5,1.78],[-1.2,1.96],[-0.9,1.64],[-0.6,1.84],[-0.3,1.76],[0.0,1.98],[0.3,1.61],[0.6,1.81],[0.9,1.89],[1.2,1.63],[-4.4,1.9],[-2.9,1.69],[-1.4,1.71],[0.1,1.73],[1.5,1.93],[-3.5,1.73],[-2.0,1.96],[-0.5,1.62],[1.0,1.77],[-2.6,1.85],[-1.1,1.89],[0.4,1.93],[1.8,1.66],[-4.1,1.68],[-0.8,1.75],
[-4.3,2.05],[-3.9,2.23],[-3.6,2.14],[-3.3,2.36],[-3.0,2.02],[-2.7,2.2],[-2.4,2.11],[-2.1,2.33],[-1.8,2.07],[-1.5,2.25],[-1.2,2.16],[-0.9,2.38],[-0.6,2.04],[-0.3,2.22],[0.0,2.13],[0.3,2.35],[0.6,2.01],[0.9,2.19],[1.2,2.1],[1.5,2.31],[1.8,2.08],[2.1,2.27],[2.4,2.15],[2.7,2.06],[-3.1,2.29],[-2.8,2.09],[-2.5,2.28],[-2.2,2.17],[-1.9,2.39],[-1.6,2.03],[-1.3,2.21],[-1.0,2.12],[-0.7,2.3],[-0.4,2.06],[-0.1,2.26],[0.2,2.18],[0.5,2.37],[0.8,2.04],[1.1,2.24],[1.4,2.14],[1.7,2.34],[2.0,2.02],[2.3,2.26],[-3.5,2.32],[-2.0,2.07],[-0.5,2.34],[1.0,2.08],[2.5,2.33],[-1.4,2.29],[0.1,2.03],[1.6,2.21],[-2.6,2.01],[-0.2,2.39],[1.3,2.37],[2.2,2.19],[0.4,2.1],[-1.1,2.35],
[-3.8,2.45],[-3.4,2.63],[-3.1,2.54],[-2.8,2.76],[-2.5,2.42],[-2.2,2.6],[-1.9,2.51],[-1.6,2.73],[-1.3,2.47],[-1.0,2.65],[-0.7,2.56],[-0.4,2.78],[-0.1,2.44],[0.2,2.62],[0.5,2.53],[0.8,2.75],[1.1,2.41],[1.4,2.59],[1.7,2.5],[2.0,2.71],[2.3,2.48],[2.6,2.67],[2.9,2.55],[3.2,2.46],[-2.9,2.69],[-2.6,2.49],[-2.3,2.68],[-2.0,2.57],[-1.7,2.79],[-1.4,2.43],[-1.1,2.61],[-0.8,2.52],[-0.5,2.7],[-0.2,2.46],[0.1,2.66],[0.4,2.58],[0.7,2.77],[1.0,2.44],[1.3,2.64],[1.6,2.54],[1.9,2.74],[2.2,2.42],[2.5,2.61],[-3.2,2.72],[-1.8,2.47],[-0.3,2.74],[1.2,2.48],[2.7,2.73],[-1.2,2.69],[0.3,2.43],[1.8,2.61],[-2.4,2.41],[0.0,2.79],[1.5,2.77],[2.4,2.59],[0.6,2.49],[-0.9,2.75],
[-2.1,2.84],[-1.7,2.95],[-1.4,2.88],[-1.1,2.99],[-0.8,2.83],[-0.5,2.92],[-0.2,2.86],[0.1,2.97],[0.4,2.81],[0.7,2.91],[1.0,2.85],[1.3,2.98],[1.6,2.82],[1.9,2.94],[2.2,2.87],[2.5,2.96],[2.8,2.84],[3.1,2.93],[-1.9,2.9],[-1.2,2.82],[-0.6,2.97],[0.0,2.89],[0.6,2.84],[1.2,2.92],[1.8,2.99],[2.4,2.82],[3.0,2.88],[-0.3,2.81],[0.9,2.95],[2.1,2.91],[-1.5,2.93],[1.5,2.87]
];
const ariAnthDense = [
[-6.7,0.41],[-6.3,0.57],[-5.9,0.31],[-5.5,0.7],[-5.1,0.28],[-4.7,0.5],[-4.3,0.23],[-3.9,0.59],[-3.5,0.12],[-3.1,0.41],[-2.7,0.64],[-2.3,0.32],[-1.9,0.72],[-1.5,0.19],[-6.5,0.29],[-6.1,0.11],[-5.7,0.48],[-5.3,0.74],[-4.9,0.36],[-4.5,0.68],[-4.1,0.31],[-3.7,0.43],[-3.3,0.79],[-2.9,0.27],[-2.5,0.55],[-2.1,0.38],[-1.7,0.49],[-5.8,0.63],[-5.4,0.19],[-5.0,0.45],[-4.6,0.04],[-4.2,0.52],[-3.8,0.21],[-3.4,0.48],[-3.0,0.18],[-2.6,0.4],[-2.2,0.64],[-1.4,0.63],[-6.0,0.74],[-5.6,0.12],[-5.2,0.55],[-4.8,0.27],[-4.4,0.46],[-4.0,0.33],[-3.6,0.05],[-3.2,0.63],[-2.8,0.35],[-2.4,0.22],[-2.0,0.46],[-1.1,0.33],[-0.5,0.24],[-0.3,0.68],[-7.0,0.6],[-6.6,0.1],[-5.0,0.7],[-4.3,0.64],[-3.5,0.55],[-2.7,0.08],[-4.7,0.17],[-3.9,0.49],[-5.4,0.38],[-6.2,0.24],[-3.1,0.27],[-1.8,0.03],[-4.9,0.6],[-4.1,0.71],[-3.7,0.78],[-2.4,0.51],[-1.6,0.38],[-5.9,0.52],
[-5.6,0.87],[-5.2,1.22],[-4.8,1.08],[-4.4,1.31],[-4.0,0.93],[-3.6,1.25],[-3.2,1.02],[-2.8,1.38],[-2.4,1.13],[-2.0,0.98],[-1.6,1.26],[-1.2,1.09],[-0.8,1.31],[-0.4,1.12],[0.0,1.35],[-5.4,1.02],[-5.0,0.83],[-4.6,1.41],[-4.2,1.16],[-3.8,1.34],[-3.4,1.1],[-3.0,1.44],[-2.6,1.28],[-2.2,1.48],[-1.8,1.2],[-1.4,1.4],[-1.0,0.95],[-0.6,1.46],[-0.2,1.2],[0.3,1.42],[-4.9,1.18],[-4.5,0.9],[-4.1,1.48],[-3.7,0.9],[-3.3,1.35],[-2.9,1.16],[-2.5,0.87],[-2.1,1.33],[-1.7,1.11],[-1.3,0.97],[-0.9,1.27],[-0.5,0.99],[-0.1,1.44],[0.5,1.15],[-3.9,1.21],[-3.1,0.91],[-2.3,1.4],[-1.5,1.52],[-0.7,1.18],[-4.3,0.84],[-2.7,1.05],[-1.1,1.37],[-5.8,0.98],[-3.5,1.53],[0.8,1.5],
[-3.8,1.71],[-3.4,2.02],[-3.0,1.66],[-2.6,1.95],[-2.2,2.18],[-1.8,1.79],[-1.4,2.06],[-1.0,1.9],[-0.6,2.24],[-0.2,1.83],[0.2,2.09],[0.6,1.92],[1.0,2.28],[1.4,2.0],[1.8,2.31],[-3.2,1.91],[-2.8,2.25],[-2.4,1.75],[-2.0,2.1],[-1.6,1.63],[-1.2,2.27],[-0.8,1.97],[-0.4,2.11],[0.0,1.8],[0.4,2.27],[0.8,1.7],[1.2,2.16],[1.6,1.86],[2.0,2.22],[-2.9,1.99],[-2.5,2.15],[-2.1,1.83],[-1.7,2.32],[-1.3,1.86],[-0.9,2.08],[-0.5,1.79],[-0.1,2.19],[0.3,1.96],[0.7,2.34],[1.1,1.94],[1.5,2.08],[-1.5,2.17],[-0.3,2.01],[0.9,2.12],[-2.3,2.35],[-1.9,1.67],[-0.7,1.88],[0.5,2.15],[1.7,2.0],[-3.6,2.2],[-4.1,1.84],[-1.1,1.72],[0.1,2.3],[1.3,1.79],[2.3,2.06],
[-2.7,2.55],[-2.3,2.77],[-1.9,2.62],[-1.5,2.86],[-1.1,2.5],[-0.7,2.72],[-0.3,2.58],[0.1,2.84],[0.5,2.66],[0.9,2.9],[1.3,2.53],[1.7,2.82],[2.1,2.6],[2.5,2.87],[2.9,2.7],[-2.1,2.45],[-1.7,2.67],[-1.3,2.93],[-0.9,2.6],[-0.5,2.83],[-0.1,2.55],[0.3,2.75],[0.7,2.5],[1.1,2.8],[1.5,2.63],[1.9,2.88],[2.3,2.7],[2.7,2.93],[-1.6,2.55],[-1.2,2.78],[-0.8,2.95],[-0.4,2.64],[0.0,2.7],[0.4,2.95],[0.8,2.62],[1.2,2.72],[1.6,2.96],[2.0,2.55],[2.4,2.78],[-2.5,2.65],[-0.6,2.51],[0.6,2.71],[1.4,2.46],[2.2,2.93],[-1.0,2.89],[0.2,2.93],[1.0,2.67],[1.8,2.5],[2.6,2.54],[-1.4,2.71],[-0.2,2.97],[1.4,2.89],[-2.0,2.97],[3.3,2.78],[0.9,2.43]
];
const ariAnthSparse = [
[-13.84,0.38],[-13.68,0.66],[-12.49,0.13],[-12.09,1.15],[-12.13,0.28],[-11.92,0.54],[-11.83,0.46],[-11.62,0.39],[-11.64,0.33],[-11.6,0.27],[-10.87,0.83],[-10.83,0.29],[-10.5,0.085],[-10.26,0.43],[-10.17,0.41],[-10.08,0.30],[-9.68,1.07],[-9.49,0.87],[-9.49,0.63],[-9.38,0.56],[-9.17,0.42],[-9.26,0.21],[-8.77,0.76],[-8.42,1.15],[-8.35,0.81],[-8.32,1.45],[-8.28,0.49],[-8.3,0.37],[-7.69,1.52],[-7.88,0.79],[-7.69,0.74],[-7.6,0.49],[-7.55,0.24],[-7.8,0.15],[-7.27,0.74],[-6.94,0.79],[-7.6,0.56],[-7.4,0.56],[-7.3,0.6],[-6.71,1.36],[-6.87,1.03],[-6.83,0.92],[-6.66,0.82],[-6.15,2.59],[-6.15,1.63],[-6.41,1.25],[-6.17,1.21],[-5.89,1.1],[-5.38,2.18],[-5.28,1.99],[-4.77,2.81],[-4.56,2.69],[-4.56,2.35],[-4.14,2.22],[-4.19,2.48],[-4.84,1.98],[-4.8,2.01],[-3.69,2.64],[-3.44,2.89],[-2.97,2.93],[-2.67,2.96],[-1.87,2.9],[-1.64,2.87],[-1.1,2.87],[-0.98,2.93],[-0.75,2.99],[-0.51,2.99],[-0.16,2.96],[0.26,2.99],[0.3,2.96],[0.87,2.97],[1.4,3.0],[1.52,2.96],[2.41,3.0],[2.64,2.99],[2.83,3.0],[3.09,2.97],[3.34,2.96],[3.58,2.96],[4.02,2.94],[4.16,2.94],[4.82,2.88],[6.73,2.93],[9.45,2.96],[8.96,2.75],[6.03,2.71],[6.03,2.63],[4.44,2.28],[4.98,2.28],[6.27,2.27],[4.75,2.16],[5.96,2.03],[3.72,2.28],[3.27,2.22],[3.97,1.76],[2.83,1.71],[3.13,1.99],[3.04,2.33],[3.27,2.33],[1.36,0.33],[0.14,0.61],[-0.12,0.05],[-0.16,0.48]
];
const ariAnthFit = [[-10.5,-0.16],[10.85,3.90]];
const ariAnthBand = [[-10.5,-0.24,-0.08],[-8,0.26,0.38],[-5,0.85,0.93],[-2,1.43,1.49],[0,1.81,1.87],[2,2.18,2.26],[5,2.73,2.85],[8,3.27,3.45],[10.85,3.78,4.02]];

const legendLabels = ['r-value =0.72','r-value =0.52','r-value =0.67'];
const titleText = 'chemistry and spectral indices';

// ---------- build ----------
const FONT = 'DejaVu Sans';
const TXT = '#262626';
const panels = [
  {pts: ciCabCore.concat(ciCabDense, ciCabSparse), fit: ciCabFit, band: ciCabBand, color:'#008000', fill:'rgba(0,128,0,0.15)'},
  {pts: criCxcCore.concat(criCxcDense, criCxcSparse), fit: criCxcFit, band: criCxcBand, color:'#FFA500', fill:'rgba(255,165,0,0.15)'},
  {pts: ariAnthCore.concat(ariAnthDense, ariAnthSparse), fit: ariAnthFit, band: ariAnthBand, color:'#FF0000', fill:'rgba(255,0,0,0.15)'}
];
const grids = [
  {left:196, top:169, width:926, height:709},
  {left:1296, top:169, width:922, height:711},
  {left:848, top:1010, width:934, height:710}
].map(g => Object.assign(g, {show:true, borderColor:'#333333', borderWidth:2, backgroundColor:'#fff'}));

function axisCommon(extra){
  return Object.assign({
    type:'value', axisLine:{show:false}, axisTick:{show:false}, splitLine:{show:false},
    nameLocation:'middle',
    nameTextStyle:{fontSize:45, color:TXT, fontFamily:FONT, rich:{i:{fontStyle:'italic', fontSize:45, color:TXT, fontFamily:FONT}}}
  }, extra);
}
const labelStyle = {fontSize:40, color:TXT, fontFamily:FONT};
const minus = v => (v < 0 ? '\u2212' + Math.abs(v) : String(v));

const xAxes = [
  axisCommon({gridIndex:0, min:0.6, max:20.1, name:'CI', nameGap:56, axisLabel:Object.assign({customValues:ciTicks, margin:12}, labelStyle)}),
  axisCommon({gridIndex:1, min:-2.3, max:158.2, name:'CRI', nameGap:56, axisLabel:Object.assign({customValues:criTicks, margin:12}, labelStyle)}),
  axisCommon({gridIndex:2, min:-15, max:15, interval:5, name:'ARI', nameGap:56, axisLabel:Object.assign({margin:12, formatter:minus}, labelStyle)})
];
const yAxes = [
  axisCommon({gridIndex:0, min:4.7, max:111.3, name:'Cab ({i|μg/cm}²)', nameGap:93, axisLabel:Object.assign({customValues:cabTicks, margin:12, padding:[8,0,0,0]}, labelStyle)}),
  axisCommon({gridIndex:1, min:-1.1, max:26.6, name:'Cxc ({i|μg/cm}²)', nameGap:74, axisLabel:Object.assign({customValues:cxcTicks, margin:12, padding:[8,0,0,0]}, labelStyle)}),
  axisCommon({gridIndex:2, min:0, max:4, interval:0.5, name:'anthocyanins ({i|μg/cm}²)', nameGap:81, axisLabel:Object.assign({margin:12, padding:[8,0,0,0], formatter: v => v.toFixed(1)}, labelStyle)})
];

const series = [];
panels.forEach((p, i) => {
  series.push({type:'scatter', name:'pts'+i, xAxisIndex:i, yAxisIndex:i, data:p.pts, symbolSize:11,
    itemStyle:{color:p.color, opacity:0.8}, z:2, silent:true});
  series.push({type:'custom', name:'band'+i, xAxisIndex:i, yAxisIndex:i, data:p.band, clip:true, z:3, silent:true,
    encode:{x:0, y:[1,2]},
    renderItem:(params, api) => {
      if (params.dataIndex !== 0) return null;
      const up = p.band.map(b => api.coord([b[0], b[2]]));
      const lo = p.band.slice().reverse().map(b => api.coord([b[0], b[1]]));
      return {type:'polygon', shape:{points: up.concat(lo), smooth:0.3}, style:{fill:p.fill}};
    }});
  series.push({type:'line', name:legendLabels[i], xAxisIndex:i, yAxisIndex:i, data:p.fit, showSymbol:false, symbol:'none',
    clip:true, color:p.color, lineStyle:{color:p.color, width:2.7}, z:4, silent:true});
});

const legendPos = [{left:218, top:187},{left:1313, top:188},{left:869, top:1031}];
const legends = legendPos.map((pos, i) => Object.assign({
  data:[legendLabels[i]], icon:'rect', itemWidth:80, itemHeight:3, selectedMode:false,
  backgroundColor:'#ffffff', borderColor:'#d6d6d6', borderWidth:1.5, borderRadius:8,
  padding:[16,16,16,14],
  textStyle:{fontSize:39, color:TXT, fontFamily:FONT, padding:[0,0,0,24]}
}, pos));

const chart = echarts.init(document.getElementById('c'), null, {renderer:'canvas'});
chart.setOption({
  animation:false,
  backgroundColor:'#ffffff',
  textStyle:{fontFamily:FONT},
  title:{text:titleText, left:511, top:8, textStyle:{fontFamily:'Lato', fontWeight:'bold', fontSize:100, color:'#5313AE'}},
  graphic:[
    {type:'line', shape:{x1:21,y1:24,x2:425,y2:24}, style:{stroke:'#7030A0', lineWidth:5}},
    {type:'line', shape:{x1:23,y1:22,x2:23,y2:1844}, style:{stroke:'#7030A0', lineWidth:4}},
    {type:'line', shape:{x1:1946,y1:24,x2:2309,y2:24}, style:{stroke:'#7030A0', lineWidth:5}}
  ],
  grid: grids,
  xAxis: xAxes,
  yAxis: yAxes,
  legend: legends,
  series: series
});
</script>
</body></html>
